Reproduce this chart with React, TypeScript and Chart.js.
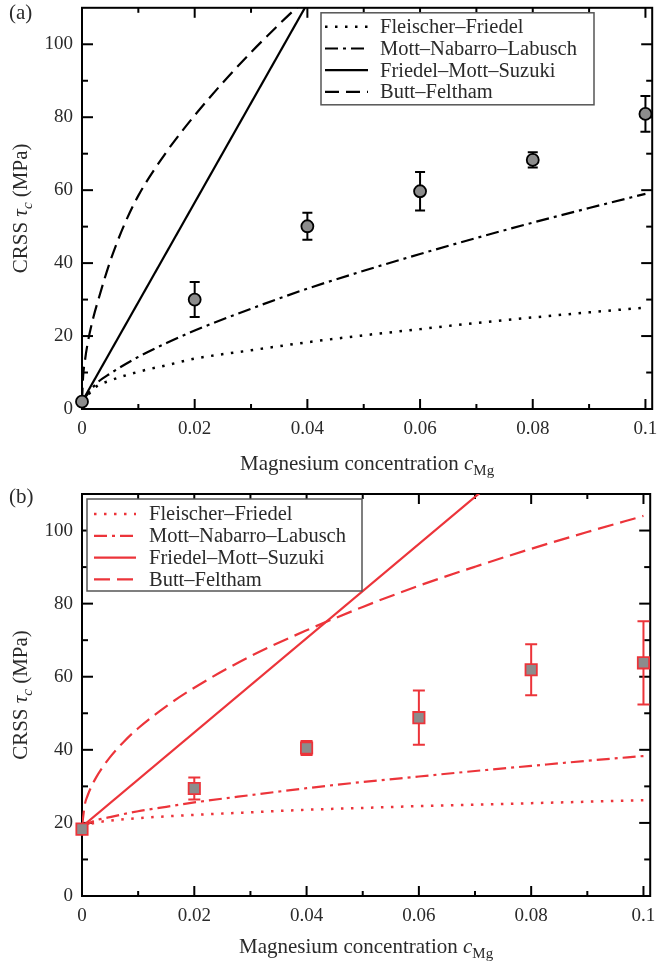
import React, { useEffect, useRef } from 'react';
import { Chart, registerables } from 'chart.js';

Chart.register(...registerables);

// ---------- axes / ticks ----------
const X_TICKS = [0, 0.02, 0.04, 0.06, 0.08, 0.1];
const X_TICK_LABELS = ['0', '0.02', '0.04', '0.06', '0.08', '0.1'];
const X_MINOR = [0.01, 0.03, 0.05, 0.07, 0.09];
const Y_TICKS = [0, 20, 40, 60, 80, 100];
const Y_TICK_LABELS = ['0', '20', '40', '60', '80', '100'];
const Y_MINOR = [10, 30, 50, 70, 90];
const X_MAX = 0.1012;
const Y_MAX = 110;

const SERIES_NAMES = ['Fleischer–Friedel', 'Mott–Nabarro–Labusch', 'Friedel–Mott–Suzuki', 'Butt–Feltham'];

// ---------- panel (a) ----------
const A_EXP_C = [0, 0.02, 0.04, 0.06, 0.08, 0.1];
const A_EXP_TAU = [2, 30, 50.1, 59.7, 68.3, 80.9];
const A_EXP_ERR = [0, 4.8, 3.7, 5.3, 2.1, 4.9];

const CURVE_C = [0, 0.0025, 0.005, 0.01, 0.015, 0.02, 0.03, 0.04, 0.05, 0.06, 0.07, 0.08, 0.09, 0.1];
const A_FF = [2, 6.1, 7.8, 10.2, 12.0, 13.8, 16.1, 18.3, 20.2, 21.9, 23.6, 25.1, 26.5, 27.8];
const A_MNL = [2, 6.9, 9.7, 14.3, 18.1, 21.5, 27.5, 33.0, 37.9, 42.5, 46.9, 51.1, 55.1, 59.0];
const A_FMS_C = [0, 0.04];
const A_FMS = [2, 111.2];
const A_BF_C = [0, 0.0002, 0.0005, 0.001, 0.002, 0.003, 0.005, 0.0075, 0.01, 0.015, 0.02, 0.025, 0.03, 0.035, 0.04];
const A_BF = [2, 9.0, 13.0, 18.0, 25.0, 30.5, 40.5, 50.5, 58.5, 70.5, 80.5, 89.5, 97.8, 105.5, 112.8];

// ---------- panel (b) ----------
const B_EXP_C = [0, 0.02, 0.04, 0.06, 0.08, 0.1];
const B_EXP_TAU = [18.3, 29.4, 40.5, 48.8, 61.9, 63.8];
const B_EXP_ERR = [0, 3.0, 1.9, 7.4, 7.0, 11.4];

const B_FF = [19, 20.1, 20.6, 21.3, 21.8, 22.2, 22.9, 23.6, 24.1, 24.6, 25.0, 25.4, 25.8, 26.2];
const B_MNL = [19, 20.7, 21.6, 23.2, 24.4, 25.6, 27.6, 29.5, 31.2, 32.7, 34.2, 35.6, 37.0, 38.3];
const B_FMS_C = [0, 0.08];
const B_FMS = [19, 122.1];
const B_BF_C = [0, 0.0005, 0.001, 0.0025, 0.005, 0.0075, 0.01, 0.015, 0.02, 0.03, 0.04, 0.05, 0.06, 0.07, 0.08, 0.09, 0.1];
const B_BF = [19, 25.0, 27.5, 32.4, 38.0, 42.3, 45.9, 51.9, 57.0, 65.6, 72.7, 79.1, 84.9, 90.1, 95.0, 99.6, 104.0];

const SERIF = '"Liberation Serif", "Times New Roman", serif';
const TEXT = '#2a2a2a';
const RED = 'rgb(236,52,58)';

type LineCfg = { c: number[]; tau: number[]; dash: number[]; width: number };
type PanelCfg = {
  label: string;
  height: number;
  padTop: number;
  xAxisH: number;
  xTitleDy: number;
  labelBaseline: number;
  color: string;
  markerFill: string;
  markerEdge: string;
  pointStyle: string;
  pointRadius: number;
  capHalf: number;
  expC: number[];
  expTau: number[];
  expErr: number[];
  lines: LineCfg[];
  legend: { dx: number; dy: number; w: number; h: number; s0: number; s1: number; tx: number; r0: number; rs: number };
};

const PANEL_A: PanelCfg = {
  label: '(a)',
  height: 482,
  padTop: 7,
  xAxisH: 73,
  xTitleDy: 61,
  labelBaseline: 19,
  color: '#000',
  markerFill: '#8c8c8c',
  markerEdge: '#000',
  pointStyle: 'circle',
  pointRadius: 6,
  capHalf: 5,
  expC: A_EXP_C,
  expTau: A_EXP_TAU,
  expErr: A_EXP_ERR,
  lines: [
    { c: CURVE_C, tau: A_FF, dash: [2.5, 7.5], width: 2.5 },
    { c: CURVE_C, tau: A_MNL, dash: [13, 5, 3, 5], width: 2.2 },
    { c: A_FMS_C, tau: A_FMS, dash: [], width: 2.2 },
    { c: A_BF_C, tau: A_BF, dash: [14, 7], width: 2.2 },
  ],
  legend: { dx: 239, dy: 5, w: 273, h: 92, s0: 4, s1: 47, tx: 59, r0: 14, rs: 21.7 },
};

const PANEL_B: PanelCfg = {
  label: '(b)',
  height: 487,
  padTop: 12,
  xAxisH: 73,
  xTitleDy: 57,
  labelBaseline: 21,
  color: RED,
  markerFill: '#8c8c8c',
  markerEdge: RED,
  pointStyle: 'rect',
  pointRadius: 8,
  capHalf: 6,
  expC: B_EXP_C,
  expTau: B_EXP_TAU,
  expErr: B_EXP_ERR,
  lines: [
    { c: CURVE_C, tau: B_FF, dash: [2.5, 7.5], width: 2.5 },
    { c: CURVE_C, tau: B_MNL, dash: [13, 5, 3, 5], width: 2.2 },
    { c: B_FMS_C, tau: B_FMS, dash: [], width: 2.2 },
    { c: B_BF_C, tau: B_BF, dash: [16, 7], width: 2.2 },
  ],
  legend: { dx: 5, dy: 5, w: 275, h: 92, s0: 7, s1: 49, tx: 62, r0: 15, rs: 21.8 },
};

type Part = { t: string; font: string; dy?: number };

function drawRich(ctx: CanvasRenderingContext2D, parts: Part[], cx: number, baseline: number) {
  let total = 0;
  const widths = parts.map((p) => {
    ctx.font = p.font;
    const w = ctx.measureText(p.t).width;
    total += w;
    return w;
  });
  let x = cx - total / 2;
  ctx.textAlign = 'left';
  ctx.textBaseline = 'alphabetic';
  parts.forEach((p, i) => {
    ctx.font = p.font;
    ctx.fillText(p.t, x, baseline + (p.dy || 0));
    x += widths[i];
  });
}

function makeChart(canvas: HTMLCanvasElement, cfg: PanelCfg) {
  const decor = {
    id: 'decor',
    beforeDatasetsDraw(chart: any) {
      const { ctx, chartArea: a, scales } = chart;
      const xs = scales.x;
      const ys = scales.y;
      ctx.save();
      ctx.strokeStyle = '#000';
      ctx.lineWidth = 2;
      ctx.strokeRect(a.left, a.top, a.right - a.left, a.bottom - a.top);
      const tick = (x0: number, y0: number, x1: number, y1: number) => {
        ctx.beginPath();
        ctx.moveTo(x0, y0);
        ctx.lineTo(x1, y1);
        ctx.stroke();
      };
      const drawX = (vals: number[], len: number) => {
        vals.forEach((v) => {
          const px = xs.getPixelForValue(v);
          tick(px, a.bottom, px, a.bottom - len);
          tick(px, a.top, px, a.top + len);
        });
      };
      const drawY = (vals: number[], len: number) => {
        vals.forEach((v) => {
          const py = ys.getPixelForValue(v);
          tick(a.left, py, a.left + len, py);
          tick(a.right, py, a.right - len, py);
        });
      };
      drawX(X_TICKS, 10);
      drawX(X_MINOR, 5);
      drawY(Y_TICKS, 11);
      drawY(Y_MINOR, 6);
      ctx.restore();
    },
    beforeDatasetDraw(chart: any, args: any) {
      if (args.index !== 0) return;
      const { ctx, scales } = chart;
      ctx.save();
      ctx.strokeStyle = cfg.markerEdge;
      ctx.lineWidth = 2;
      cfg.expC.forEach((c, i) => {
        const e = cfg.expErr[i];
        if (!e) return;
        const px = scales.x.getPixelForValue(c);
        const pt = scales.y.getPixelForValue(cfg.expTau[i] + e);
        const pb = scales.y.getPixelForValue(cfg.expTau[i] - e);
        ctx.beginPath();
        ctx.moveTo(px, pt);
        ctx.lineTo(px, pb);
        ctx.moveTo(px - cfg.capHalf, pt);
        ctx.lineTo(px + cfg.capHalf, pt);
        ctx.moveTo(px - cfg.capHalf, pb);
        ctx.lineTo(px + cfg.capHalf, pb);
        ctx.stroke();
      });
      ctx.restore();
    },
    afterDatasetsDraw(chart: any) {
      const { ctx, chartArea: a } = chart;
      const L = cfg.legend;
      const bx = a.left + L.dx;
      const by = a.top + L.dy;
      ctx.save();
      ctx.fillStyle = '#fff';
      ctx.fillRect(bx, by, L.w, L.h);
      ctx.strokeStyle = '#555';
      ctx.lineWidth = 1.5;
      ctx.strokeRect(bx, by, L.w, L.h);
      cfg.lines.forEach((ln, i) => {
        const y = by + L.r0 + i * L.rs;
        ctx.strokeStyle = cfg.color;
        ctx.lineWidth = ln.width;
        ctx.setLineDash(ln.dash);
        ctx.beginPath();
        ctx.moveTo(bx + L.s0, y);
        ctx.lineTo(bx + L.s1, y);
        ctx.stroke();
        ctx.setLineDash([]);
        ctx.fillStyle = TEXT;
        ctx.font = `20.5px ${SERIF}`;
        ctx.textAlign = 'left';
        ctx.textBaseline = 'middle';
        ctx.fillText(SERIES_NAMES[i], bx + L.tx, y + 1);
      });
      ctx.restore();
    },
    afterDraw(chart: any) {
      const { ctx, chartArea: a } = chart;
      ctx.save();
      ctx.fillStyle = TEXT;
      drawRich(
        ctx,
        [
          { t: 'Magnesium concentration ', font: `21px ${SERIF}` },
          { t: 'c', font: `italic 21px ${SERIF}` },
          { t: 'Mg', font: `15px ${SERIF}`, dy: 5 },
        ],
        (a.left + a.right) / 2,
        a.bottom + cfg.xTitleDy
      );
      ctx.save();
      ctx.translate(27, (a.top + a.bottom) / 2);
      ctx.rotate(-Math.PI / 2);
      drawRich(
        ctx,
        [
          { t: 'CRSS ', font: `21px ${SERIF}` },
          { t: 'τ', font: `italic 21px ${SERIF}` },
          { t: 'c', font: `italic 15px ${SERIF}`, dy: 5 },
          { t: ' (MPa)', font: `21px ${SERIF}` },
        ],
        0,
        0
      );
      ctx.restore();
      ctx.font = `21px ${SERIF}`;
      ctx.textAlign = 'left';
      ctx.textBaseline = 'alphabetic';
      ctx.fillText(cfg.label, 9, cfg.labelBaseline);
      ctx.restore();
    },
  };

  const datasets: any[] = [
    {
      type: 'scatter',
      label: 'experiment',
      data: cfg.expC.map((c, i) => ({ x: c, y: cfg.expTau[i] })),
      pointStyle: cfg.pointStyle,
      pointRadius: cfg.pointRadius,
      backgroundColor: cfg.markerFill,
      borderColor: cfg.markerEdge,
      borderWidth: 1.8,
      showLine: false,
      clip: false,
      order: 0,
    },
    ...cfg.lines.map((ln, i) => ({
      type: 'line',
      label: SERIES_NAMES[i],
      data: ln.c.map((c, j) => ({ x: c, y: ln.tau[j] })),
      borderColor: cfg.color,
      borderWidth: ln.width,
      borderDash: ln.dash,
      borderCapStyle: 'butt',
      pointRadius: 0,
      fill: false,
      cubicInterpolationMode: 'monotone',
      showLine: true,
      order: i + 1,
    })),
  ];

  const tickFont = { family: SERIF, size: 19 };

  return new Chart(canvas, {
    type: 'scatter',
    data: { datasets },
    plugins: [decor],
    options: {
      responsive: false,
      animation: false,
      events: [],
      layout: { padding: { top: cfg.padTop, right: 5, left: 0, bottom: 0 } },
      plugins: { legend: { display: false }, tooltip: { enabled: false }, title: { display: false } },
      scales: {
        x: {
          type: 'linear',
          min: 0,
          max: X_MAX,
          grid: { display: false, drawTicks: false },
          border: { display: false },
          ticks: {
            padding: 9,
            font: tickFont,
            color: TEXT,
            maxRotation: 0,
            autoSkip: false,
            callback: (v: any) => X_TICK_LABELS[X_TICKS.indexOf(Number(v))] ?? '',
          },
          afterBuildTicks: (s: any) => {
            s.ticks = X_TICKS.map((v) => ({ value: v }));
          },
          afterFit: (s: any) => {
            s.height = cfg.xAxisH;
            s.paddingLeft = 0;
            s.paddingRight = 0;
            s.paddingTop = 0;
            s.paddingBottom = 0;
          },
        },
        y: {
          type: 'linear',
          min: 0,
          max: Y_MAX,
          grid: { display: false, drawTicks: false },
          border: { display: false },
          ticks: {
            padding: 9,
            font: tickFont,
            color: TEXT,
            autoSkip: false,
            callback: (v: any) => Y_TICK_LABELS[Y_TICKS.indexOf(Number(v))] ?? '',
          },
          afterBuildTicks: (s: any) => {
            s.ticks = Y_TICKS.map((v) => ({ value: v }));
          },
          afterFit: (s: any) => {
            s.width = 82;
            s.paddingLeft = 0;
            s.paddingRight = 0;
            s.paddingTop = 0;
            s.paddingBottom = 0;
          },
        },
      },
    } as any,
  });
}

export default function App() {
  const refA = useRef<HTMLCanvasElement>(null);
  const refB = useRef<HTMLCanvasElement>(null);
  useEffect(() => {
    const a = makeChart(refA.current!, PANEL_A);
    const b = makeChart(refB.current!, PANEL_B);
    return () => {
      a.destroy();
      b.destroy();
    };
  }, []);
  return (
    <div style={{ position: 'absolute', left: 0, top: 0, width: 660, height: 969, background: '#fff' }}>
      <canvas ref={refA} width={660} height={PANEL_A.height} style={{ position: 'absolute', left: 0, top: 0 }} />
      <canvas ref={refB} width={660} height={PANEL_B.height} style={{ position: 'absolute', left: 0, top: PANEL_A.height }} />
    </div>
  );
}
